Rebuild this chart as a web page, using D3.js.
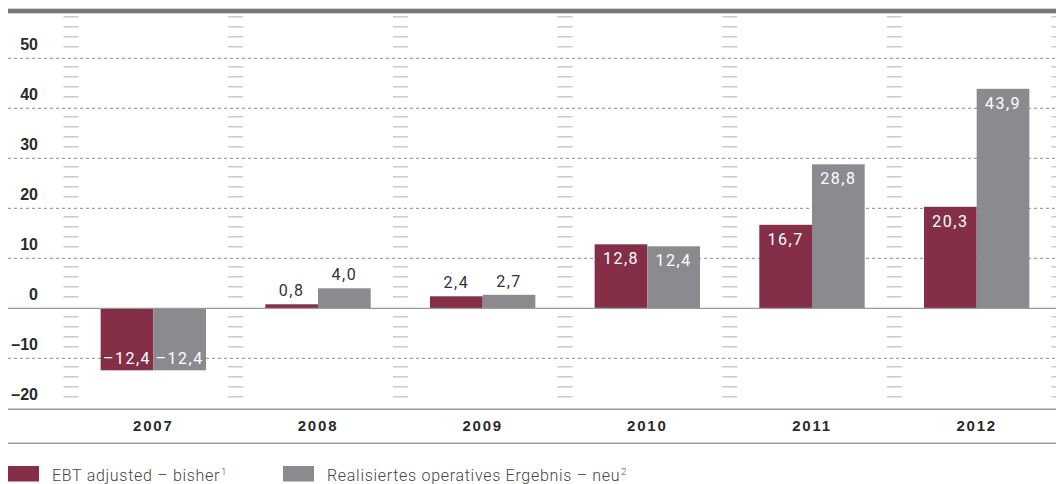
<!DOCTYPE html>
<html>
<head>
<meta charset="utf-8">
<script src="https://cdn.jsdelivr.net/npm/d3@7"></script>
<style>
  body { margin: 0; background: #fff; }
  svg { display: block; }
</style>
</head>
<body>
<svg id="chart" width="1056" height="484"></svg>
<script>
// data
var years = ["2007", "2008", "2009", "2010", "2011", "2012"];
var ebtBisher = [-12.4, 0.8, 2.4, 12.8, 16.7, 20.3];
var ergebnisNeu = [-12.4, 4.0, 2.7, 12.4, 28.8, 43.9];
var yTicks = [50, 40, 30, 20, 10, 0, -10, -20];
var seriesNames = ["EBT adjusted – bisher", "Realisiertes operatives Ergebnis – neu"];
var seriesSup = ["1", "2"];

var colors = { ebt: "#842f47", neu: "#8b8b8f" };

var width = 1056, height = 484;
var svg = d3.select("#chart");

var y = d3.scaleLinear().domain([-20, 50]).range([408.3, 58.3]);
var x0 = d3.scaleBand().domain(years).range([71, 1059]).paddingInner(0.36).paddingOuter(0.18);
var x1 = d3.scaleBand().domain(["ebt", "neu"]).range([0, x0.bandwidth()]);

function fmt(v) {
	var s = Math.abs(v).toFixed(1).replace(".", ",");
	return v < 0 ? "–" + s : s;
}

// top bar
svg.append("rect").attr("x", 8).attr("y", 8.7).attr("width", width - 8).attr("height", 4.6).attr("fill", "#76767a");

// hatch marks between groups
var step = x0.step();
var hatchX = d3.range(7).map(function (i) { return 71 + i * step; });
var hatchVals = d3.range(-18, 59, 2).filter(function (v) { return v % 10 !== 0; });
var hatch = svg.append("g");
hatchX.forEach(function (hx) {
	hatch.selectAll(null)
		.data(hatchVals)
		.enter()
		.append("line")
		.attr("x1", hx - 7.5)
		.attr("x2", hx + 7.5)
		.attr("y1", function (d) { return y(d) - 1.5; })
		.attr("y2", function (d) { return y(d) - 1.5; })
		.attr("stroke", "#c6c2ba")
		.attr("stroke-width", 1.3);
});

// dashed gridlines
svg.append("g")
	.selectAll("line")
	.data(yTicks.filter(function (d) { return d !== 0 && d !== -20; }))
	.enter()
	.append("line")
	.attr("x1", 8)
	.attr("x2", width)
	.attr("y1", function (d) { return y(d); })
	.attr("y2", function (d) { return y(d); })
	.attr("stroke", "#8a8a8a")
	.attr("stroke-width", 1)
	.attr("stroke-dasharray", "3,3");

// y labels
svg.append("g")
	.selectAll("text")
	.data(yTicks)
	.enter()
	.append("text")
	.attr("x", 38)
	.attr("y", function (d) { return y(d) - 8; })
	.attr("text-anchor", "end")
	.attr("font-family", "Liberation Sans, Arial, sans-serif")
	.attr("font-weight", "bold")
	.attr("font-size", 16)
	.attr("fill", "#2a2a2a")
	.text(function (d) { return d < 0 ? "–" + Math.abs(d) : d; });

// bars
var rows = years.map(function (yr, i) {
	return { year: yr, values: [
		{ key: "ebt", v: ebtBisher[i] },
		{ key: "neu", v: ergebnisNeu[i] }
	] };
});

var groups = svg.append("g")
	.selectAll("g")
	.data(rows)
	.enter()
	.append("g")
	.attr("transform", function (d) { return "translate(" + x0(d.year) + ",0)"; });

groups.selectAll("rect")
	.data(function (d) { return d.values; })
	.enter()
	.append("rect")
	.attr("x", function (d) { return x1(d.key); })
	.attr("width", x1.bandwidth())
	.attr("y", function (d) { return y(Math.max(0, d.v)); })
	.attr("height", function (d) { return Math.abs(y(d.v) - y(0)); })
	.attr("fill", function (d) { return colors[d.key]; });

// zero line
svg.append("line").attr("x1", 8).attr("x2", width).attr("y1", y(0)).attr("y2", y(0))
	.attr("stroke", "#9a9a9a").attr("stroke-width", 1.3);

// value labels
groups.selectAll("text")
	.data(function (d) { return d.values; })
	.enter()
	.append("text")
	.attr("x", function (d) { return x1(d.key) + x1.bandwidth() / 2; })
	.attr("y", function (d) {
		if (d.v < 0) return y(d.v) - 6;
		if (d.v < 5) return y(d.v) - 8;
		return y(d.v) + 20;
	})
	.attr("text-anchor", "middle")
	.attr("font-family", "Roboto, sans-serif")
	.attr("font-size", 16)
	.attr("letter-spacing", "1.5px")
	.attr("fill", function (d) { return (d.v >= 0 && d.v < 5) ? "#333" : "#fff"; })
	.text(function (d) { return fmt(d.v); });

// x axis lines
svg.append("line").attr("x1", 8).attr("x2", width).attr("y1", 409.3).attr("y2", 409.3)
	.attr("stroke", "#9a9a9a").attr("stroke-width", 1.5);
svg.append("line").attr("x1", 8).attr("x2", width).attr("y1", 443.3).attr("y2", 443.3)
	.attr("stroke", "#9a9a9a").attr("stroke-width", 1.5);

// year labels
svg.append("g")
	.selectAll("text")
	.data(years)
	.enter()
	.append("text")
	.attr("x", function (d) { return x0(d) + x0.bandwidth() / 2; })
	.attr("y", 430.5)
	.attr("text-anchor", "middle")
	.attr("font-family", "Liberation Sans, Arial, sans-serif")
	.attr("font-weight", "bold")
	.attr("font-size", 15)
	.attr("letter-spacing", "1.8px")
	.attr("fill", "#2a2a2a")
	.text(function (d) { return d; });

// legend
var legendX = [8, 283];
var legend = svg.append("g")
	.selectAll("g")
	.data(["ebt", "neu"])
	.enter()
	.append("g")
	.attr("transform", function (d, i) { return "translate(" + legendX[i] + ",466)"; });

legend.append("rect")
	.attr("width", 31)
	.attr("height", 15.5)
	.attr("fill", function (d) { return colors[d]; });

var lt = legend.append("text")
	.attr("x", 44)
	.attr("y", 15)
	.attr("font-family", "Roboto, sans-serif")
	.attr("font-weight", 300)
	.attr("font-size", 16)
	.attr("letter-spacing", "0.7px")
	.attr("fill", "#444");
lt.append("tspan").text(function (d, i) { return seriesNames[i]; });
lt.append("tspan")
	.attr("dx", 1)
	.attr("dy", -6)
	.attr("font-size", 9)
	.text(function (d, i) { return seriesSup[i]; });
</script>
</body>
</html>
